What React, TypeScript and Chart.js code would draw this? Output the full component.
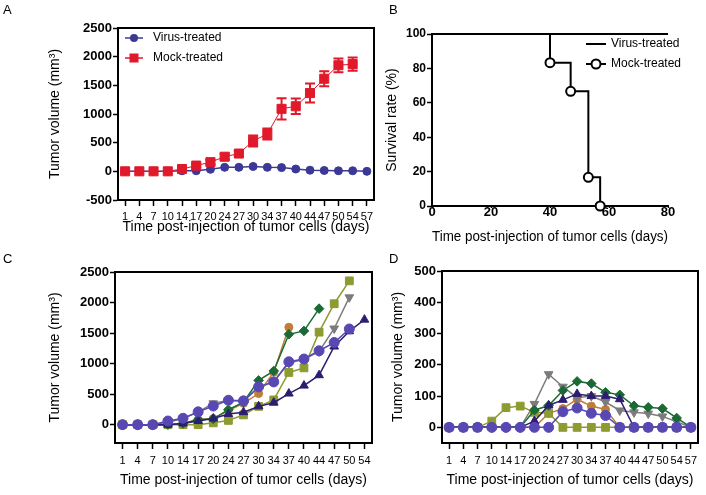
import React, { useEffect, useRef } from 'react';
import { Chart, registerables } from 'chart.js';

Chart.register(...registerables);

const W = 706;
const H = 495;
const FONT = "'Liberation Sans', Arial, Helvetica, sans-serif";
const NARROW = "'Liberation Sans Narrow', 'Arial Narrow', 'Liberation Sans', Arial, sans-serif";
const XTITLE = 'Time post-injection of tumor cells (days)';
const YTITLE_VOL = 'Tumor volume (mm³)';
const YTITLE_SURV = 'Survival rate (%)';

// ---------- Panel A ----------
const catsA = ['1', '4', '7', '10', '14', '17', '20', '24', '27', '30', '34', '37', '40', '44', '47', '50', '54', '57'];
const yTicksA = [-500, 0, 500, 1000, 1500, 2000, 2500];
const virusA = [0, 0, 0, 0, 10, 10, 35, 70, 70, 85, 70, 65, 40, 20, 15, 10, 10, 0];
const mockA = [0, 0, 0, 0, 40, 100, 160, 255, 310, 530, 650, 1090, 1135, 1365, 1615, 1850, 1870, null];
const mockAErr = [0, 0, 0, 0, 20, 30, 40, 50, 50, 95, 95, 185, 135, 165, 130, 120, 115, null];

// ---------- Panel B ----------
const xTicksB = [0, 20, 40, 60, 80];
const yTicksB = [0, 20, 40, 60, 80, 100];
const survVirusX = [0, 80];
const survVirusY = [100, 100];
const survMockX = [0, 40, 47, 53, 57];
const survMockY = [100, 83.3, 66.7, 16.7, 0];
const survMockMarker = [false, true, true, true, true];

// ---------- Panel C ----------
const catsC = ['1', '4', '7', '10', '14', '17', '20', '24', '27', '30', '34', '37', '40', '44', '47', '50', '54'];
const yTicksC = [0, 500, 1000, 1500, 2000, 2500];
const cBlue = [0, 0, 0, 60, 105, 210, 305, 400, 390, 620, 700, 1030, 1075, 1210, 1345, 1567, null];
const cNavy = [0, 0, 0, 0, 20, 60, 100, 175, 205, 300, 360, 510, 640, 810, 1280, 1530, 1720];
const cGreen = [0, 0, 0, 0, 20, 85, 95, 245, 370, 725, 880, 1480, 1535, 1900, null, null, null];
const cOlive = [0, 0, 0, 0, 0, 0, 30, 70, 160, 300, 405, 855, 930, 1515, 1980, 2355, null];
const cGray = [0, 0, 0, 40, 100, 205, 350, 395, 385, 610, 705, 1010, 1070, 1200, 1575, 2085, null];
const cOrange = [0, 0, 0, 0, 20, 80, 100, 230, 350, 510, 860, 1595, null, null, null, null, null];

// ---------- Panel D ----------
const catsD = ['1', '4', '7', '10', '14', '17', '20', '24', '27', '30', '34', '37', '40', '44', '47', '50', '54', '57'];
const yTicksD = [0, 100, 200, 300, 400, 500];
const dBlue = [0, 0, 0, 0, 0, 0, 0, 0, 50, 62, 45, 38, 0, 0, 0, 0, 0, 0];
const dNavy = [0, 0, 0, 0, 0, 0, 20, 70, 88, 107, 100, 100, 90, 0, 0, 0, 0, 0];
const dGreen = [0, 0, 0, 0, 0, 0, 55, 70, 118, 147, 140, 112, 104, 69, 64, 60, 30, 0];
const dOlive = [0, 0, 0, 20, 63, 68, 48, 45, 0, 0, 0, 0, 0, 0, 0, 0, 0, 0];
const dGray = [0, 0, 0, 0, 0, 0, 75, 170, 130, 95, 100, 81, 54, 48, 44, 35, 18, 0];
const dOrange = [0, 0, 0, 0, 0, 0, 0, 45, 60, 90, 68, 57, 0, 0, 0, 0, 0, 0];

const COL = {
  virusA: '#3c3896',
  mockA: '#e0192b',
  blue: '#5848b4',
  navy: '#2c1d70',
  green: '#1b6a36',
  olive: '#8d9b30',
  gray: '#7c7c7c',
  orange: '#bf7d37',
};

type Box = { left: number; top: number; right: number; bottom: number; yW: number; xH: number };

function padFor(b: Box) {
  return { left: b.left - b.yW, top: b.top, right: W - b.right, bottom: H - b.bottom - b.xH };
}

const plain = (v: any) => String(v);

function yAxis(o: { min: number; max: number; ticks: number[]; title: string; titlePad: number; yW: number; size: number; tickLen: number; pad: number }) {
  return {
    type: 'linear',
    position: 'left',
    min: o.min,
    max: o.max,
    afterFit: (s: any) => { s.width = o.yW; },
    afterBuildTicks: (s: any) => { s.ticks = o.ticks.map((v) => ({ value: v })); },
    ticks: { callback: plain, color: '#000', padding: o.pad, font: { family: FONT, size: o.size, weight: 'bold' } },
    grid: { drawOnChartArea: false, drawTicks: true, tickLength: o.tickLen, tickWidth: 1.5, tickColor: '#000' },
    border: { display: true, color: '#000', width: 2 },
    title: { display: true, text: o.title, color: '#000', font: { family: FONT, size: 14 }, padding: { top: o.titlePad, bottom: 0 } },
  };
}

function xCat(o: { labels: string[]; xH: number; titlePad: number; tickLen: number; tickPad: number }) {
  return {
    type: 'category',
    labels: o.labels,
    offset: true,
    afterFit: (s: any) => { s.height = o.xH; },
    ticks: { autoSkip: false, maxRotation: 0, minRotation: 0, color: '#000', padding: o.tickPad, font: { family: NARROW, size: 11 } },
    grid: { offset: false, drawOnChartArea: false, drawTicks: true, tickLength: o.tickLen, tickWidth: 1.5, tickColor: '#000' },
    border: { display: true, color: '#000', width: 2 },
    title: { display: true, text: XTITLE, color: '#000', font: { family: FONT, size: 14 }, padding: { top: 0, bottom: o.titlePad } },
  };
}

const framePlugin = {
  id: 'frame',
  afterDraw(chart: any) {
    const { ctx } = chart;
    const { left, top, right, bottom } = chart.chartArea;
    ctx.save();
    ctx.strokeStyle = '#000';
    ctx.lineWidth = 2;
    ctx.beginPath();
    ctx.moveTo(left - 1, top);
    ctx.lineTo(right, top);
    ctx.lineTo(right, bottom + 1);
    ctx.stroke();
    ctx.restore();
  },
};

type LegendItem = { ds: number; y: number; marker: 'circle' | 'square' | 'ring' | 'none'; r: number; lw: number };

function makeLegend(items: LegendItem[], x1: number, x2: number, textX: number, size: number) {
  return {
    id: 'customLegend',
    afterDraw(chart: any) {
      const { ctx } = chart;
      ctx.save();
      items.forEach((it) => {
        const ds = chart.data.datasets[it.ds];
        const color = ds.borderColor;
        ctx.strokeStyle = color;
        ctx.lineWidth = it.lw;
        ctx.beginPath();
        ctx.moveTo(x1, it.y);
        ctx.lineTo(x2, it.y);
        ctx.stroke();
        const cx = (x1 + x2) / 2;
        if (it.marker === 'circle') {
          ctx.fillStyle = color;
          ctx.beginPath();
          ctx.arc(cx, it.y, it.r, 0, Math.PI * 2);
          ctx.fill();
        } else if (it.marker === 'square') {
          ctx.fillStyle = color;
          ctx.fillRect(cx - it.r, it.y - it.r, it.r * 2, it.r * 2);
        } else if (it.marker === 'ring') {
          ctx.fillStyle = '#fff';
          ctx.lineWidth = 2;
          ctx.beginPath();
          ctx.arc(cx, it.y, it.r, 0, Math.PI * 2);
          ctx.fill();
          ctx.stroke();
        }
        ctx.fillStyle = '#000';
        ctx.font = `${size}px ${FONT}`;
        ctx.textBaseline = 'middle';
        ctx.textAlign = 'left';
        ctx.fillText(ds.label, textX, it.y);
      });
      ctx.restore();
    },
  };
}

function makeErrorBars(dsIndex: number, errs: (number | null)[], cap: number) {
  return {
    id: 'errorBars',
    afterDatasetsDraw(chart: any) {
      const { ctx } = chart;
      const meta = chart.getDatasetMeta(dsIndex);
      const ds = chart.data.datasets[dsIndex];
      const ys = chart.scales.y;
      ctx.save();
      ctx.strokeStyle = ds.borderColor;
      ctx.lineWidth = 2;
      meta.data.forEach((pt: any, i: number) => {
        const v = ds.data[i];
        const e = errs[i];
        if (v == null || e == null || e <= 0) return;
        const x = pt.x;
        const yTop = ys.getPixelForValue(v + e);
        const yBot = ys.getPixelForValue(v - e);
        ctx.beginPath();
        ctx.moveTo(x, yTop);
        ctx.lineTo(x, yBot);
        ctx.moveTo(x - cap, yTop);
        ctx.lineTo(x + cap, yTop);
        ctx.moveTo(x - cap, yBot);
        ctx.lineTo(x + cap, yBot);
        ctx.stroke();
      });
      ctx.restore();
    },
  };
}

function lineDs(label: string, data: (number | null)[], color: string, style: string, r: number, order: number, rotation = 0, lw = 1.5) {
  return {
    label,
    data,
    borderColor: color,
    backgroundColor: color,
    borderWidth: lw,
    pointStyle: style,
    pointRadius: r,
    pointRotation: rotation,
    pointBackgroundColor: color,
    pointBorderColor: color,
    pointBorderWidth: 1,
    tension: 0,
    order,
  };
}

function baseOptions(b: Box, scales: any) {
  return {
    responsive: false,
    animation: false,
    devicePixelRatio: 1,
    events: [],
    layout: { padding: padFor(b), autoPadding: false },
    plugins: { legend: { display: false }, tooltip: { enabled: false }, title: { display: false } },
    scales,
  };
}

// ---------- chart configs ----------
function configA() {
  const b: Box = { left: 118, top: 28, right: 374, bottom: 200, yW: 118, xH: 40 };
  return {
    type: 'line',
    data: {
      labels: catsA,
      datasets: [
        lineDs('Virus-treated', virusA, COL.virusA, 'circle', 4, 1, 0, 1.5),
        lineDs('Mock-treated', mockA, COL.mockA, 'rect', 6.4, 0, 0, 1),
      ],
    },
    options: baseOptions(b, {
      x: xCat({ labels: catsA, xH: b.xH, titlePad: 4.6, tickLen: 6, tickPad: 4 }),
      y: yAxis({ min: -500, max: 2500, ticks: yTicksA, title: YTITLE_VOL, titlePad: 46.6, yW: b.yW, size: 13, tickLen: 5, pad: 1 }),
    }),
    plugins: [
      framePlugin,
      makeErrorBars(1, mockAErr, 5),
      makeLegend(
        [
          { ds: 0, y: 38, marker: 'circle', r: 4, lw: 1.5 },
          { ds: 1, y: 58, marker: 'square', r: 4.5, lw: 1.5 },
        ],
        125, 143, 153, 12,
      ),
    ],
  };
}

function configB() {
  const b: Box = { left: 432, top: 34, right: 668, bottom: 206, yW: 60, xH: 40 };
  const virusPts = survVirusX.map((x, i) => ({ x, y: survVirusY[i] }));
  const mockPts = survMockX.map((x, i) => ({ x, y: survMockY[i] }));
  return {
    type: 'line',
    data: {
      datasets: [
        {
          label: 'Virus-treated',
          data: virusPts,
          borderColor: '#000',
          borderWidth: 2,
          pointRadius: 0,
          clip: false,
          order: 1,
        },
        {
          label: 'Mock-treated',
          data: mockPts,
          borderColor: '#000',
          borderWidth: 2,
          stepped: 'before',
          pointRadius: survMockMarker.map((m) => (m ? 4.5 : 0)),
          pointBackgroundColor: '#fff',
          pointBorderColor: '#000',
          pointBorderWidth: 2,
          clip: false,
          order: 0,
        },
      ],
    },
    options: baseOptions(b, {
      x: {
        type: 'linear',
        min: 0,
        max: 80,
        afterFit: (s: any) => { s.height = b.xH; },
        afterBuildTicks: (s: any) => { s.ticks = xTicksB.map((v) => ({ value: v })); },
        ticks: { callback: plain, color: '#000', padding: -3, maxRotation: 0, font: { family: FONT, size: 13, weight: 'bold' } },
        grid: { drawOnChartArea: false, drawTicks: true, tickLength: 2, tickWidth: 1.5, tickColor: '#000' },
        border: { display: true, color: '#000', width: 2 },
        title: { display: true, text: XTITLE, color: '#000', font: { family: FONT, size: 14 }, padding: { top: 0, bottom: 0.3 } },
      },
      y: yAxis({ min: 0, max: 100, ticks: yTicksB, title: YTITLE_SURV, titlePad: 11.6, yW: b.yW, size: 12, tickLen: 5, pad: 1 }),
    }),
    plugins: [
      makeLegend(
        [
          { ds: 0, y: 44, marker: 'none', r: 0, lw: 2 },
          { ds: 1, y: 64, marker: 'ring', r: 4.5, lw: 2 },
        ],
        586, 606, 611, 12,
      ),
    ],
  };
}

function configC() {
  const b: Box = { left: 115, top: 272, right: 372, bottom: 443, yW: 115, xH: 46 };
  return {
    type: 'line',
    data: {
      labels: catsC,
      datasets: [
        lineDs('Mouse 1', cBlue, COL.blue, 'circle', 5, 0),
        lineDs('Mouse 2', cNavy, COL.navy, 'triangle', 5, 1),
        lineDs('Mouse 3', cGreen, COL.green, 'rectRot', 4.8, 2),
        lineDs('Mouse 4', cOlive, COL.olive, 'rect', 5.5, 3),
        lineDs('Mouse 5', cGray, COL.gray, 'triangle', 5, 4, 180),
        lineDs('Mouse 6', cOrange, COL.orange, 'circle', 4, 5),
      ],
    },
    options: baseOptions(b, {
      x: xCat({ labels: catsC, xH: b.xH, titlePad: 0.6, tickLen: 6, tickPad: 5 }),
      y: yAxis({ min: -300, max: 2500, ticks: yTicksC, title: YTITLE_VOL, titlePad: 46.6, yW: b.yW, size: 13, tickLen: 5, pad: 1 }),
    }),
    plugins: [framePlugin],
  };
}

function configD() {
  const b: Box = { left: 442, top: 271, right: 698, bottom: 443, yW: 60, xH: 46 };
  return {
    type: 'line',
    data: {
      labels: catsD,
      datasets: [
        lineDs('Mouse 1', dBlue, COL.blue, 'circle', 5, 0),
        lineDs('Mouse 2', dNavy, COL.navy, 'triangle', 5, 1),
        lineDs('Mouse 3', dGreen, COL.green, 'rectRot', 4.8, 2),
        lineDs('Mouse 4', dOlive, COL.olive, 'rect', 5.5, 3),
        lineDs('Mouse 5', dGray, COL.gray, 'triangle', 5, 4, 180),
        lineDs('Mouse 6', dOrange, COL.orange, 'circle', 4, 5),
      ],
    },
    options: baseOptions(b, {
      x: xCat({ labels: catsD, xH: b.xH, titlePad: 0.6, tickLen: 6, tickPad: 5 }),
      y: yAxis({ min: -50, max: 500, ticks: yTicksD, title: YTITLE_VOL, titlePad: 7.6, yW: b.yW, size: 13, tickLen: 5, pad: 1 }),
    }),
    plugins: [framePlugin],
  };
}

function Panel({ make }: { make: () => any }) {
  const ref = useRef<HTMLCanvasElement | null>(null);
  useEffect(() => {
    if (!ref.current) return;
    const chart = new Chart(ref.current, make());
    return () => chart.destroy();
  }, [make]);
  return <canvas ref={ref} width={W} height={H} style={{ position: 'absolute', left: 0, top: 0, width: W, height: H }} />;
}

const labelStyle = (left: number, top: number): React.CSSProperties => ({
  position: 'absolute',
  left,
  top,
  fontFamily: FONT,
  fontSize: 13,
  lineHeight: '13px',
  color: '#000',
});

export default function App() {
  return (
    <div style={{ position: 'absolute', left: 0, top: 0, width: W, height: H, background: '#fff', overflow: 'hidden' }}>
      <Panel make={configA} />
      <Panel make={configB} />
      <Panel make={configC} />
      <Panel make={configD} />
      <div style={labelStyle(3, 3)}>A</div>
      <div style={labelStyle(389, 3)}>B</div>
      <div style={labelStyle(3, 252)}>C</div>
      <div style={labelStyle(389, 252)}>D</div>
    </div>
  );
}
